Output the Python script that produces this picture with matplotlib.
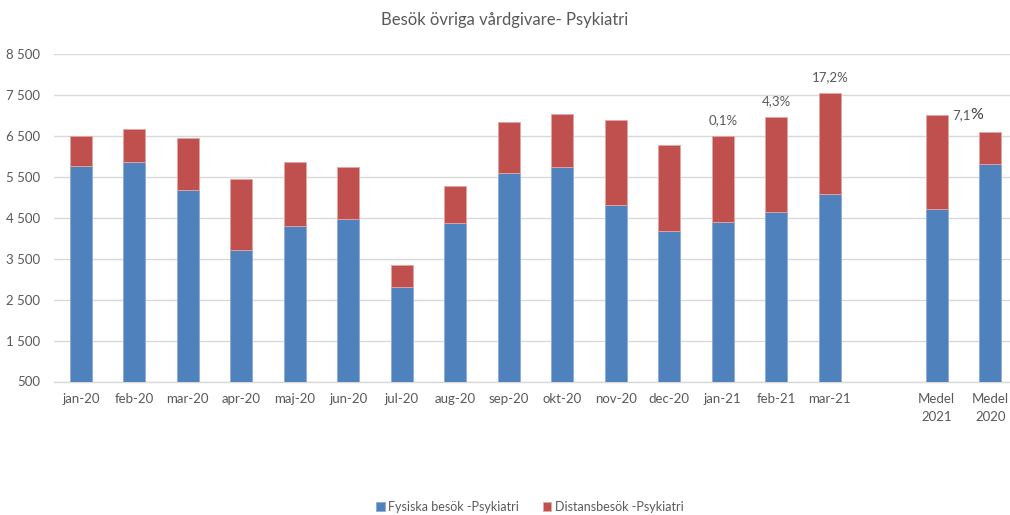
import numpy as np
import matplotlib
matplotlib.use("Agg")
import matplotlib.pyplot as plt

plt.rcParams['font.family'] = ['Lato', 'DejaVu Sans']

categories = ['jan-20', 'feb-20', 'mar-20', 'apr-20', 'maj-20', 'jun-20', 'jul-20',
              'aug-20', 'sep-20', 'okt-20', 'nov-20', 'dec-20', 'jan-21', 'feb-21',
              'mar-21', 'Medel\n2021', 'Medel\n2020']
fysiska = [5766, 5873, 5178, 3704, 4298, 4462, 2799, 4364, 5587, 5734, 4812, 4168,
           4399, 4650, 5073, 4708, 5812]
distans = [734, 790, 1265, 1736, 1575, 1279, 538, 905, 1240, 1303, 2078, 2120,
           2103, 2307, 2477, 2290, 772]
pct_cats = ['jan-21', 'feb-21', 'mar-21']
pct_labels = ['0,1%', '4,3%', '17,2%']
medel_pct_num = '7,1'
medel_pct_sign = '%'
yticks = [500, 1500, 2500, 3500, 4500, 5500, 6500, 7500, 8500]
ytick_labels = ['500', '1 500', '2 500', '3 500', '4 500', '5 500', '6 500', '7 500', '8 500']

BLUE = '#4F81BD'
RED = '#C0504D'
GRAY = '#595959'
GRID = '#D9D9D9'

# positions: months consecutive, one empty slot before the averages
x = list(range(15)) + [16, 17]
x = np.array(x, dtype=float)

fig = plt.figure(figsize=(10.1, 5.15), dpi=100)
ax = fig.add_axes([54 / 1010, (515 - 381.5) / 515, 1 - 54 / 1010, (381.5 - 54) / 515])

w = 0.405
ax.bar(x, fysiska, width=w, color=BLUE, edgecolor='#8FAADC', linewidth=0.6,
       label='Fysiska besök -Psykiatri', zorder=3)
ax.bar(x, distans, width=w, bottom=fysiska, color=RED, edgecolor='#E3A6A5', linewidth=0.6,
       label='Distansbesök -Psykiatri', zorder=3)

ax.set_ylim(500, 8500)
ax.set_yticks(yticks)
ax.set_yticklabels(ytick_labels)
slot_px = 53.5
ax.set_xlim(-0.5, 17.5 - (1017 - 1010) / slot_px)
ax.set_xticks(x)
ax.set_xticklabels(categories)

ax.grid(axis='y', color=GRID, linewidth=1, zorder=0)
for s in ['top', 'right', 'left']:
    ax.spines[s].set_visible(False)
ax.spines['bottom'].set_color(GRID)
ax.spines['bottom'].set_linewidth(1)
ax.tick_params(axis='both', length=0, colors=GRAY, labelsize=9.5)
ax.tick_params(axis='y', pad=10)
ax.tick_params(axis='x', pad=8)
for t in ax.get_xticklabels():
    t.set_linespacing(1.65)

totals = [f + d for f, d in zip(fysiska, distans)]
for cat, lab in zip(pct_cats, pct_labels):
    i = categories.index(cat)
    ax.annotate(lab, (x[i], totals[i]), xytext=(0, 7), textcoords='offset points',
                ha='center', va='bottom', fontsize=9.5, color=GRAY)

im = categories.index('Medel\n2021')
t1 = ax.annotate(medel_pct_num, (x[im] + w / 2, totals[im]), xytext=(3, 0),
                 textcoords='offset points', ha='left', va='center', fontsize=9.5, color=GRAY)
fig.canvas.draw()
bb = t1.get_window_extent()
fig.text(bb.x1 / fig.dpi / fig.get_figwidth(), (bb.y0 + bb.y1) / 2 / fig.dpi / fig.get_figheight(),
         medel_pct_sign, ha='left', va='center', fontsize=11.5, color='#404040')

fig.text(505 / 1010, 1 - 20 / 515, 'Besök övriga vårdgivare- Psykiatri',
         ha='center', va='center', fontsize=12, color=GRAY)

fig.legend(loc='center', bbox_to_anchor=(530 / 1010, 1 - 507 / 515), ncol=2,
           frameon=False, fontsize=9, labelcolor=GRAY, handlelength=0.65,
           handleheight=0.65, handletextpad=0.3, columnspacing=1.9)

fig.savefig('out.png', dpi=100)
